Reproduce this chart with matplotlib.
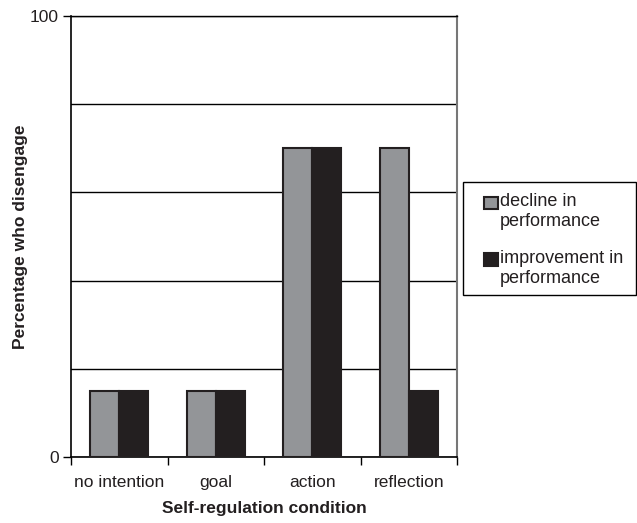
import matplotlib
matplotlib.use("Agg")
import matplotlib.pyplot as plt
import numpy as np
from matplotlib.patches import Rectangle

categories = ["no intention", "goal", "action", "reflection"]
decline = [15, 15, 70, 70]
improvement = [15, 15, 70, 15]
series_labels = [["decline in", "performance"], ["improvement in", "performance"]]

grey = "#939598"
dark = "#231f20"

plt.rcParams["font.family"] = ["Liberation Sans", "DejaVu Sans"]

W, H = 637, 523
fig = plt.figure(figsize=(W / 100, H / 100), dpi=100)
ax = fig.add_axes([0.1115, 0.1262, 0.6060, 0.8432])

x = np.arange(len(categories))
w = 0.3
ax.bar(x - w / 2, decline, width=w, color=grey, edgecolor=dark, linewidth=1.5, zorder=3)
ax.bar(x + w / 2, improvement, width=w, color=dark, edgecolor=dark, linewidth=1.5, zorder=3)

ax.set_xlim(-0.5, len(categories) - 0.5)
ax.set_ylim(0, 100)
ax.set_yticks([0, 100])
ax.set_yticks([20, 40, 60, 80], minor=True)
ax.yaxis.grid(True, which="both", color="black", linewidth=1.0, zorder=1)
ax.tick_params(axis="y", which="minor", length=0)
ax.tick_params(axis="y", which="major", length=6, width=1, labelsize=12.5, pad=3,
               labelcolor=dark)

ax.set_xticks(x)
ax.set_xticklabels(categories, fontsize=12.5, color=dark)
ax.set_xticks(np.arange(len(categories) + 1) - 0.5, minor=True)
ax.tick_params(axis="x", which="major", length=0, pad=13)
ax.tick_params(axis="x", which="minor", length=6, width=1)

ax.spines["left"].set_linewidth(1.2)
ax.spines["bottom"].set_linewidth(1.2)
ax.spines["top"].set_linewidth(1.0)
ax.spines["right"].set_color("#777777")
ax.spines["right"].set_linewidth(1.5)

ax.set_xlabel("Self-regulation condition", fontsize=12.5, fontweight="bold",
              labelpad=8, color=dark)
ax.set_ylabel("Percentage who disengage", fontsize=12.5, fontweight="bold",
              color=dark)
ax.yaxis.set_label_coords(-0.112, 0.5)


def fx(px):
    return px / W


def fy(py):
    return 1 - py / H


# legend: framed box with a swatch beside each two-line label
fig.patches.append(Rectangle((fx(463), fy(295)), fx(636) - fx(463), fy(182) - fy(295),
                             transform=fig.transFigure, facecolor="white",
                             edgecolor="black", linewidth=1.0, zorder=5))
swatch_colors = [grey, dark]
entry_tops = [196.5, 253]
for colr, top, lines in zip(swatch_colors, entry_tops, series_labels):
    fig.patches.append(Rectangle((fx(483.5), fy(top + 12.5)), fx(14), 12.5 / H,
                                 transform=fig.transFigure, facecolor=colr,
                                 edgecolor=dark, linewidth=1.5, zorder=6))
    base = top + 10
    for i, line in enumerate(lines):
        fig.text(fx(500), fy(base + 20 * i), line, fontsize=13, color=dark,
                 ha="left", va="baseline", zorder=7)

fig.savefig("out.png", dpi=100)
